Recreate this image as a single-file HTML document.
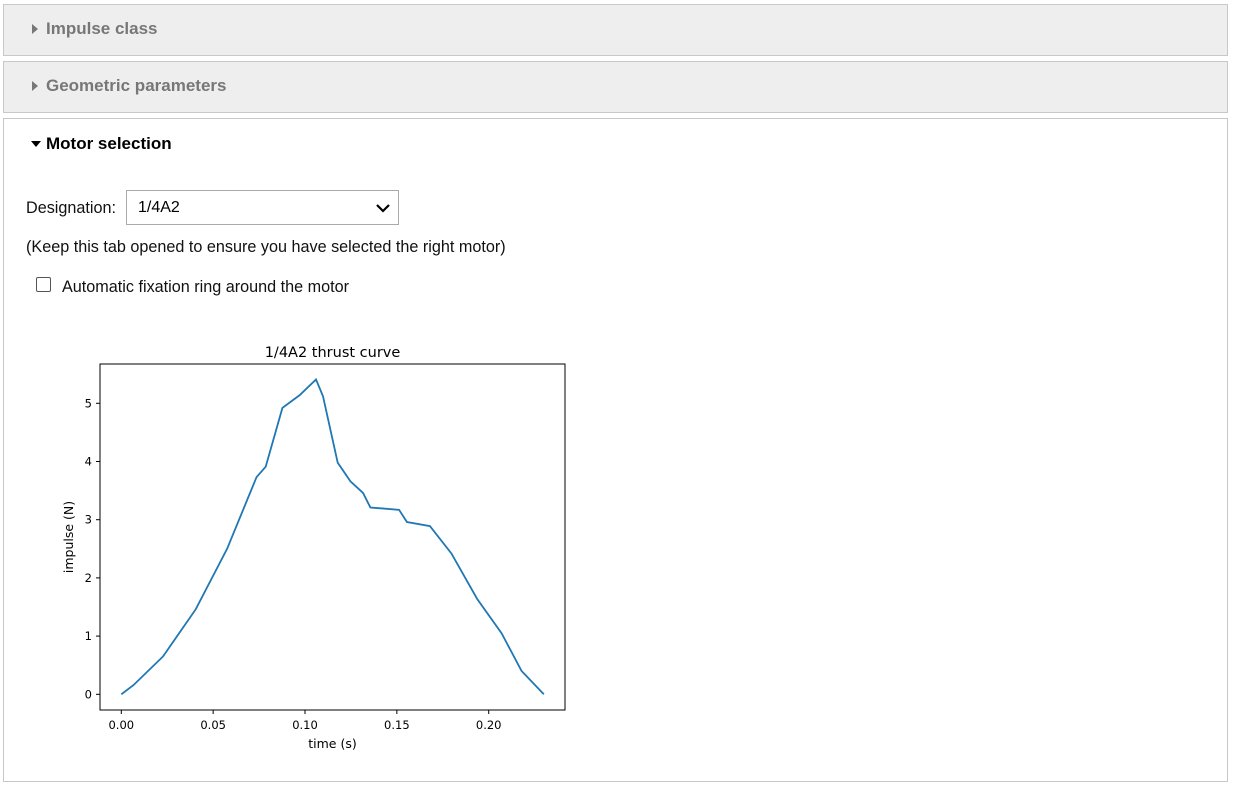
<!DOCTYPE html>
<html><head><meta charset="utf-8"><style>
body{margin:0;width:1236px;height:786px;background:#fff;font-family:"Liberation Sans",Arial,sans-serif;position:relative;overflow:hidden}
.panel{position:absolute;left:3px;width:1225px;border:1px solid #c8c8c8;box-sizing:border-box}
.hdr{position:absolute;left:28px;font-size:17px;font-weight:bold}
.tri{position:absolute;width:0;height:0}
.txt{position:absolute;font-size:16.2px;color:#111}
</style></head><body>
<div class="panel" style="top:4px;height:52px;background:#eeeeee">
  <div class="tri" style="left:28px;top:19px;border-left:6px solid #777;border-top:5px solid transparent;border-bottom:5px solid transparent"></div>
  <div class="hdr" style="left:42px;top:14px;color:#777">Impulse class</div>
</div>
<div class="panel" style="top:61px;height:52px;background:#eeeeee">
  <div class="tri" style="left:28px;top:19px;border-left:6px solid #777;border-top:5px solid transparent;border-bottom:5px solid transparent"></div>
  <div class="hdr" style="left:42px;top:14px;color:#777">Geometric parameters</div>
</div>
<div class="panel" style="top:118px;height:664px;background:#fff">
  <div class="tri" style="left:27px;top:22px;border-top:6px solid #000;border-left:5px solid transparent;border-right:5px solid transparent"></div>
  <div class="hdr" style="left:42px;top:15px;color:#000">Motor selection</div>
</div>
<div class="txt" style="left:26px;top:199px">Designation:</div>
<div style="position:absolute;left:126px;top:190px;width:273px;height:35px;border:1px solid #aaa;box-sizing:border-box;font-size:16px">
  <span style="position:absolute;left:11px;top:8px">1/4A2</span>
  <svg style="position:absolute;right:8px;top:12px" width="14" height="10"><path d="M1 2 L7 8 L13 2" stroke="#000" stroke-width="2.2" fill="none"/></svg>
</div>
<div class="txt" style="left:26px;top:238px">(Keep this tab opened to ensure you have selected the right motor)</div>
<div style="position:absolute;left:36px;top:277px;width:13px;height:13px;border:1px solid #555;border-radius:2px"></div>
<div class="txt" style="left:62px;top:278px">Automatic fixation ring around the motor</div>

<svg id="chart" width="1236" height="786" style="position:absolute;left:0;top:0;font-family:'DejaVu Sans',sans-serif"></svg>
<script>
const times=[0,0.0067,0.0227,0.0405,0.0576,0.0736,0.0786,0.0877,0.0971,0.106,0.1098,0.1178,0.1247,0.1316,0.1356,0.1512,0.1555,0.168,0.1797,0.1937,0.207,0.2179,0.23];
const thrust=[0,0.16,0.65,1.46,2.50,3.73,3.91,4.92,5.14,5.41,5.12,3.98,3.66,3.46,3.21,3.17,2.96,2.89,2.42,1.64,1.05,0.40,0];
const xTicks=[0,0.05,0.10,0.15,0.20];
const xTickLabels=["0.00","0.05","0.10","0.15","0.20"];
const yTicks=[0,1,2,3,4,5];
const svg=document.getElementById('chart');
const NS='http://www.w3.org/2000/svg';
const L=100,R=565,T=364,B=710;
const x=t=>121.3+t*1837;
const y=v=>694.3-v*58.2;
function mk(tag,a,txt){const e=document.createElementNS(NS,tag);for(const k in a)e.setAttribute(k,a[k]);if(txt!=null)e.textContent=txt;svg.appendChild(e);return e;}
let e=mk('rect',{x:L,y:T,width:R-L,height:B-T,fill:'none',stroke:'#000','stroke-width':1});


e=mk('text',{x:(L+R)/2,y:357,'text-anchor':'middle','font-size':14.5,fill:'#000'},'1/4A2 thrust curve');


xTicks.forEach((t,i)=>{
  e=mk('line',{x1:x(t),x2:x(t),y1:B,y2:B+4,stroke:'#000'});
  
  
  e=mk('text',{x:x(t),y:B+19,'text-anchor':'middle','font-size':11.5,fill:'#000'},xTickLabels[i]);
  
  
});
yTicks.forEach(v=>{
  e=mk('line',{x1:L-4,x2:L,y1:y(v),y2:y(v),stroke:'#000'});
  
  
  e=mk('text',{x:L-8,y:y(v)+4,'text-anchor':'end','font-size':11.5,fill:'#000'},String(v));
  
  
});
e=mk('text',{x:(L+R)/2,y:748,'text-anchor':'middle','font-size':12.5,fill:'#000'},'time (s)');


e=mk('text',{x:0,y:0,'text-anchor':'middle','font-size':12.5,fill:'#000',transform:`translate(73,${(T+B)/2}) rotate(-90)`},'impulse (N)');


e=mk('polyline',{points:times.map((t,i)=>x(t)+','+y(thrust[i])).join(' '),fill:'none',stroke:'#1f77b4','stroke-width':1.8});


</script>
</body></html>
